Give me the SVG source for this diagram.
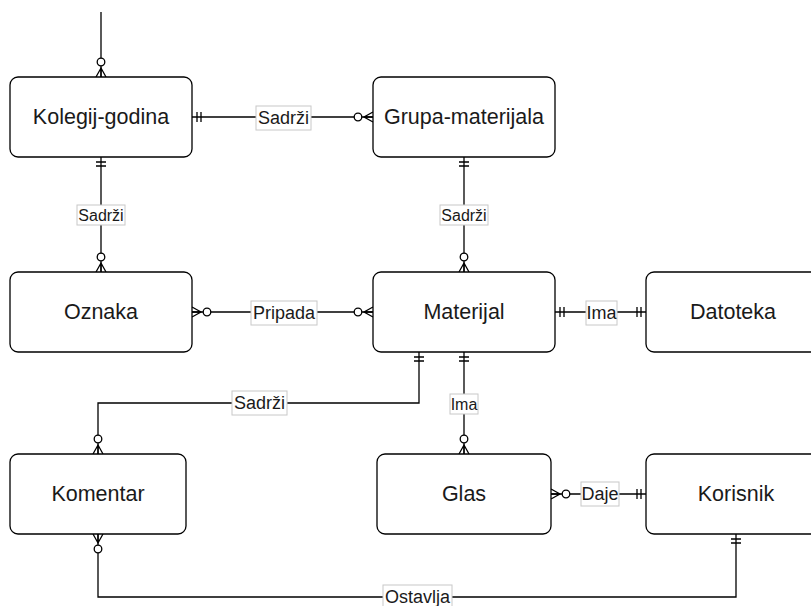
<svg xmlns="http://www.w3.org/2000/svg" width="811" height="606" viewBox="0 0 811 606">
<style>
.box{fill:#fff;stroke:#000;stroke-width:1.3}
.nt{font-family:"Liberation Sans",Arial,sans-serif;font-size:21.5px;fill:#1a1a1a;text-anchor:middle;dominant-baseline:central}
.ln{fill:none;stroke:#000;stroke-width:1.3}
.lb{fill:#fff;stroke:#c8c8c8;stroke-width:1}
.lt{font-family:"Liberation Sans",Arial,sans-serif;font-size:18px;fill:#1a1a1a;text-anchor:middle;dominant-baseline:central}
.lts{font-size:16px}
</style>
<defs>
<marker id="zm" markerUnits="userSpaceOnUse" viewBox="-22 -8 24 16" refX="0" refY="0" markerWidth="24" markerHeight="16" orient="auto-start-reverse" overflow="visible">
<path d="M0,-5 L-9,0 L0,5 M-9,0 L0,0" fill="none" stroke="#000" stroke-width="1.3"/>
<circle cx="-15" cy="0" r="3.8" fill="#fff" stroke="#000" stroke-width="1.3"/>
</marker>
<marker id="mo" markerUnits="userSpaceOnUse" viewBox="-22 -8 24 16" refX="0" refY="0" markerWidth="24" markerHeight="16" orient="auto-start-reverse" overflow="visible">
<path d="M-5,-5 L-5,5 M-9,-5 L-9,5" fill="none" stroke="#000" stroke-width="1.3"/>
</marker>
</defs>
<g id="connectors">
<path class="ln" d="M101,12 L101,77" marker-end="url(#zm)"/>
<path class="ln" d="M192,117 L373,117" marker-start="url(#mo)" marker-end="url(#zm)"/>
<path class="ln" d="M101,157 L101,272" marker-start="url(#mo)" marker-end="url(#zm)"/>
<path class="ln" d="M464,157 L464,272" marker-start="url(#mo)" marker-end="url(#zm)"/>
<path class="ln" d="M192,312 L373,312" marker-start="url(#zm)" marker-end="url(#zm)"/>
<path class="ln" d="M555,312 L646,312" marker-start="url(#mo)" marker-end="url(#mo)"/>
<path class="ln" d="M419,352 L419,403 L98,403 L98,454" marker-start="url(#mo)" marker-end="url(#zm)"/>
<path class="ln" d="M464,352 L464,454" marker-start="url(#mo)" marker-end="url(#zm)"/>
<path class="ln" d="M551,494 L646,494" marker-start="url(#zm)" marker-end="url(#mo)"/>
<path class="ln" d="M98,534 L98,597 L736,597 L736,534" marker-start="url(#zm)" marker-end="url(#mo)"/>
<rect class="lb" x="256" y="106" width="55" height="24"/><text class="lt" x="283.5" y="118">Sadrži</text>
<rect class="lb" x="77" y="205" width="48" height="20"/><text class="lt lts" x="101" y="215">Sadrži</text>
<rect class="lb" x="440" y="205" width="48" height="20"/><text class="lt lts" x="464" y="215">Sadrži</text>
<rect class="lb" x="251" y="301" width="66" height="24"/><text class="lt" x="284" y="313">Pripada</text>
<rect class="lb" x="586" y="301" width="31" height="24"/><text class="lt" x="601.5" y="313">Ima</text>
<rect class="lb" x="232" y="391" width="55" height="24"/><text class="lt" x="259.5" y="403">Sadrži</text>
<rect class="lb" x="450" y="394" width="28" height="20"/><text class="lt lts" x="464" y="404">Ima</text>
<rect class="lb" x="581" y="482" width="38" height="24"/><text class="lt" x="600" y="494">Daje</text>
<rect class="lb" x="383" y="585" width="69" height="24"/><text class="lt" x="417.5" y="597">Ostavlja</text>
</g>
<g id="kolegij-godina"><rect class="box" x="10" y="77" width="182" height="80" rx="8"/><text class="nt" x="101" y="117">Kolegij-godina</text></g>
<g id="grupa-materijala"><rect class="box" x="373" y="77" width="182" height="80" rx="8"/><text class="nt" x="464" y="117">Grupa-materijala</text></g>
<g id="oznaka"><rect class="box" x="10" y="272" width="182" height="80" rx="8"/><text class="nt" x="101" y="312">Oznaka</text></g>
<g id="materijal"><rect class="box" x="373" y="272" width="182" height="80" rx="8"/><text class="nt" x="464" y="312">Materijal</text></g>
<g id="datoteka"><rect class="box" x="646" y="272" width="180" height="80" rx="8"/><text class="nt" x="733" y="312">Datoteka</text></g>
<g id="komentar"><rect class="box" x="10" y="454" width="176" height="80" rx="8"/><text class="nt" x="98" y="494">Komentar</text></g>
<g id="glas"><rect class="box" x="377" y="454" width="174" height="80" rx="8"/><text class="nt" x="464" y="494">Glas</text></g>
<g id="korisnik"><rect class="box" x="646" y="454" width="180" height="80" rx="8"/><text class="nt" x="736" y="494">Korisnik</text></g>
</svg>
